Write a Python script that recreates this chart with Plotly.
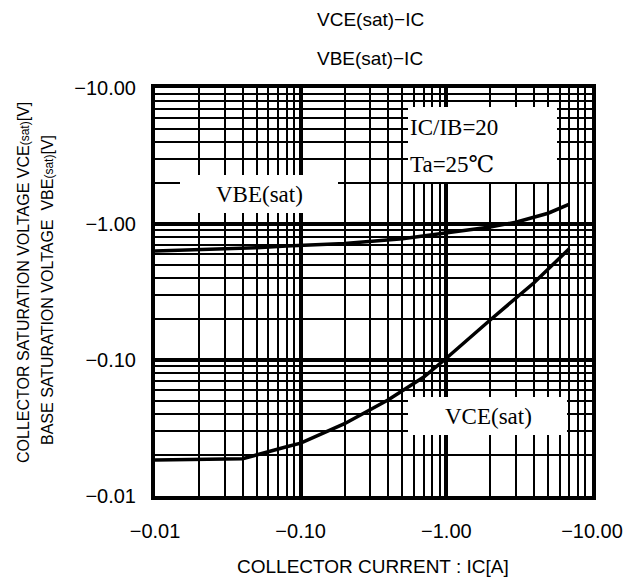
import plotly.graph_objects as go

# ---- data ----
ic_vbe = [0.01, 0.02, 0.05, 0.08, 0.1, 0.2, 0.5, 1.0, 2.0, 3.0, 5.0, 7.0]
vbe_sat = [0.632, 0.645, 0.67, 0.688, 0.695, 0.72, 0.78, 0.86, 0.95, 1.03, 1.2, 1.4]

ic_vce = [0.01, 0.02, 0.04, 0.08, 0.1, 0.2, 0.4, 0.7, 1.0, 2.0, 4.0, 7.0]
vce_sat = [0.0184, 0.0185, 0.0188, 0.023, 0.0245, 0.034, 0.051, 0.075, 0.103, 0.197, 0.37, 0.66]

x_tickvals = [0.01, 0.1, 1, 10]
x_ticktext = ["\u22120.01", "\u22120.10", "\u22121.00", "\u221210.00"]
y_tickvals = [0.01, 0.1, 1, 10]
y_ticktext = ["\u22120.01", "\u22120.10", "\u22121.00", "\u221210.00"]
minor_vals = [m * d for d in (0.01, 0.1, 1) for m in range(2, 10)]

title_lines = ["VCE(sat)\u2212IC", "VBE(sat)\u2212IC"]
ytitle_lines = [
    "COLLECTOR SATURATION VOLTAGE VCE<span style='font-size:12px'>(sat)</span>[V]",
    "BASE SATURATION VOLTAGE  VBE<span style='font-size:12px'>(sat)</span>[V]",
]
xtitle = "COLLECTOR CURRENT : IC[A]"

W, H = 637, 586
L, R, T, B = 155, 592, 88, 496  # plot area in pixels
pw, ph = R - L, B - T


def px(x):
    return (x - L) / pw


def py(y):
    return (B - y) / ph


sans = "Liberation Sans, Arial, sans-serif"
serif = "Liberation Serif, Times New Roman, DejaVu Serif, serif"

fig = go.Figure()
fig.add_trace(go.Scatter(x=ic_vbe, y=vbe_sat, mode="lines",
                         line=dict(color="black", width=3.5), showlegend=False))
fig.add_trace(go.Scatter(x=ic_vce, y=vce_sat, mode="lines",
                         line=dict(color="black", width=3.5), showlegend=False))

axis_common = dict(
    type="log", range=[-2, 1],
    showgrid=True, gridcolor="black", gridwidth=3.5,
    showline=True, linecolor="black", linewidth=4, mirror=True,
    zeroline=False,
    ticks="outside", tickcolor="rgba(0,0,0,0)",
    tickfont=dict(family=sans, size=20, color="black"),
    minor=dict(tickmode="array", tickvals=minor_vals, showgrid=True,
               gridcolor="black", gridwidth=2, ticks=""),
)

fig.update_xaxes(**axis_common, tickmode="array", tickvals=x_tickvals,
                 ticktext=x_ticktext, ticklen=14)
fig.update_yaxes(**axis_common, tickmode="array", tickvals=y_tickvals,
                 ticktext=y_ticktext, ticklen=11)

# white label boxes
boxes = [(180, 175, 338, 213), (408, 107, 557, 182), (408, 397, 567, 435)]
for x0, y0, x1, y1 in boxes:
    fig.add_shape(type="rect", xref="paper", yref="paper",
                  x0=px(x0), x1=px(x1), y0=py(y1), y1=py(y0),
                  fillcolor="white", line=dict(width=0), layer="above")

lab_font = dict(family=serif, size=23, color="black")
ann = []
ann.append(dict(text="VBE(sat)", x=px(259), y=py(194), xanchor="center", yanchor="middle",
                font=lab_font))
ann.append(dict(text="IC/IB=20", x=px(408), y=py(127), xanchor="left", yanchor="middle",
                font=lab_font))
ann.append(dict(text="Ta=25\u2103", x=px(408), y=py(164), xanchor="left", yanchor="middle",
                font=lab_font))
ann.append(dict(text="VCE(sat)", x=px(488), y=py(416), xanchor="center", yanchor="middle",
                font=lab_font))
# titles
ann.append(dict(text=title_lines[0], x=px(370), y=py(20), xanchor="center", yanchor="middle",
                font=dict(family=sans, size=19, color="black")))
ann.append(dict(text=title_lines[1], x=px(370), y=py(58), xanchor="center", yanchor="middle",
                font=dict(family=sans, size=19, color="black")))
# y-axis title (two lines)
ann.append(dict(text=ytitle_lines[0], x=px(23), y=py(283), xanchor="center", yanchor="middle",
                textangle=-90, font=dict(family=sans, size=16, color="black")))
ann.append(dict(text=ytitle_lines[1], x=px(47), y=py(290), xanchor="center", yanchor="middle",
                textangle=-90, font=dict(family=sans, size=16, color="black")))
# x-axis title
ann.append(dict(text=xtitle, x=px(373), y=py(566), xanchor="center", yanchor="middle",
                font=dict(family=sans, size=19, color="black")))

for a in ann:
    a.update(xref="paper", yref="paper", showarrow=False)

fig.update_layout(
    width=W, height=H,
    margin=dict(l=L, r=W - R, t=T, b=H - B),
    paper_bgcolor="white", plot_bgcolor="white",
    annotations=ann, showlegend=False,
)

fig.write_html("out.html")
